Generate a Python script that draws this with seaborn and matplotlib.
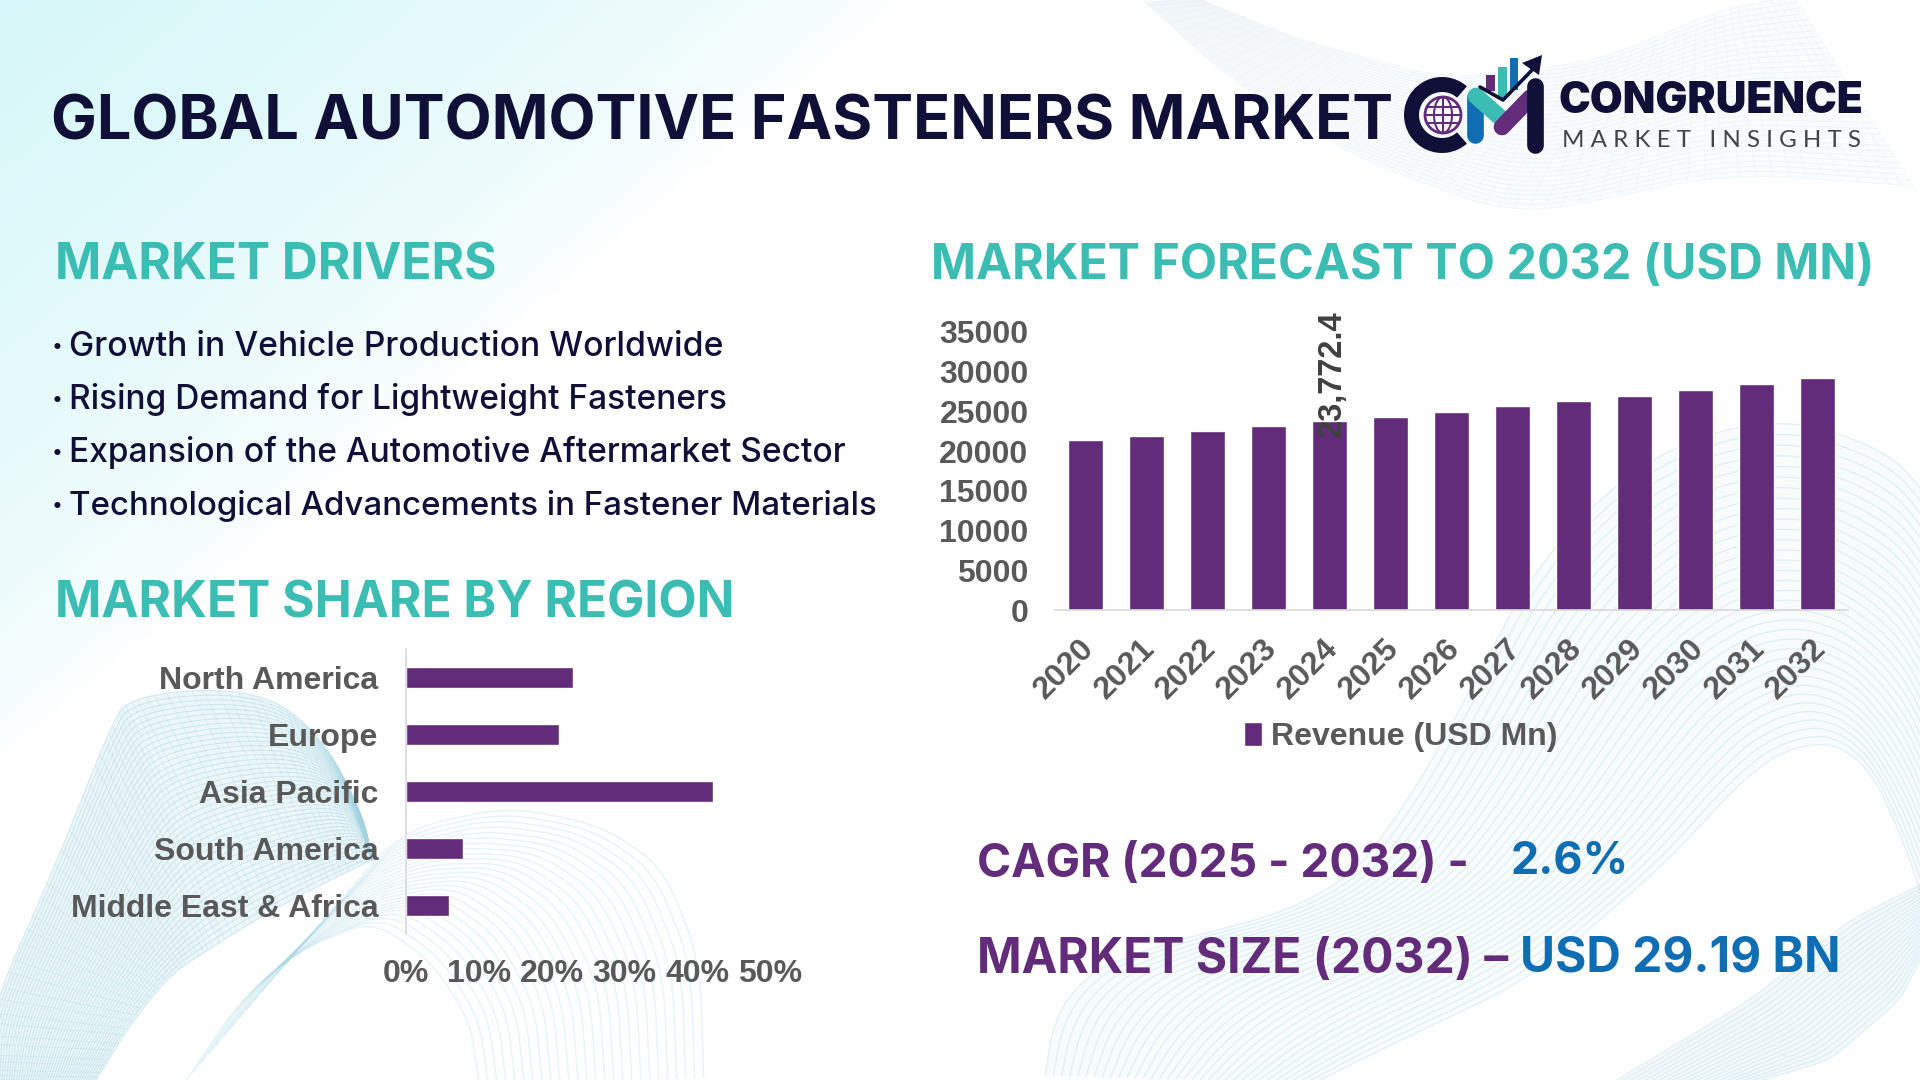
import numpy as np
import pandas as pd
import matplotlib
matplotlib.use("Agg")
import matplotlib.pyplot as plt
from matplotlib.patches import Circle, Ellipse, Polygon, Rectangle, Wedge
from matplotlib.transforms import ScaledTranslation
import seaborn as sns

years = ["2020", "2021", "2022", "2023", "2024", "2025", "2026", "2027", "2028", "2029", "2030", "2031", "2032"]
revenue = [21400, 21900, 22550, 23170, 23772.4, 24300, 24950, 25680, 26300, 26950, 27700, 28450, 29190]
regions = ["North America", "Europe", "Asia Pacific", "South America", "Middle East & Africa"]
region_share = [23, 21, 42.2, 7.8, 5.9]
drivers = [
    "Growth in Vehicle Production Worldwide",
    "Rising Demand for Lightweight Fasteners",
    "Expansion of the Automotive Aftermarket Sector",
    "Technological Advancements in Fastener Materials",
]

PURPLE = "#622c7a"
TEAL = "#3cbdb4"
NAVY = "#0f0f38"
BLUE = "#0f6db3"
GREY = "#595959"
MESH = "#9fd3e2"

sns.set_theme(style="white")
plt.rcParams["font.family"] = ["Inter", "DejaVu Sans"]

fig = plt.figure(figsize=(19.2, 10.8), dpi=100, facecolor="white")
renderer = fig.canvas.get_renderer()

# full page axes in pixel units, used for the background, headings and logo
page = fig.add_axes([0, 0, 1, 1], zorder=0)
page.set_xlim(0, 1920)
page.set_ylim(1080, 0)
page.axis("off")


def smooth(pts, n=240, win=31):
    pts = np.array(pts, dtype=float)
    t = np.linspace(0, 1, len(pts))
    u = np.linspace(0, 1, n)
    out = []
    for k in range(2):
        v = np.interp(u, t, pts[:, k])
        v = np.concatenate([np.full(win, v[0]), v, np.full(win, v[-1])])
        out.append(np.convolve(v, np.ones(win) / win, mode="same")[win:-win])
    return np.column_stack(out)


def ribbon(outer, inner, n=40, alpha=0.35, fill=0.0, cross=0, lw=0.8, color=MESH):
    o, i = smooth(outer), smooth(inner)
    if fill:
        page.add_patch(Polygon(np.vstack([o, i[::-1]]), closed=True, fc=color, ec="none", alpha=fill))
    for f in np.linspace(0, 1, n):
        c = o * (1 - f) + i * f
        page.plot(c[:, 0], c[:, 1], color=color, lw=lw, alpha=alpha)
    for k in np.linspace(0, len(o) - 1, cross).astype(int) if cross else []:
        page.plot([o[k, 0], i[k, 0]], [o[k, 1], i[k, 1]], color=color, lw=lw * 0.7, alpha=alpha * 0.7)


def fit_text(s, x0, x1, base, color, weight="bold", family=None):
    t = page.text(x0, base, s, color=color, weight=weight, fontsize=30, va="baseline", ha="left",
                  family=family or ["Inter", "DejaVu Sans"])
    w = t.get_window_extent(renderer).width
    t.set_fontsize(30 * (x1 - x0) / w)
    return t


# pale cyan wash in the top left corner
yy, xx = np.mgrid[0:1080:270j, 0:1920:480j]
wash = np.clip(1 - (xx / 900 + yy / 760), 0, 1) ** 0.6
rgba = np.ones((270, 480, 4))
rgba[..., 0], rgba[..., 1], rgba[..., 2] = 0.84, 0.97, 0.98
rgba[..., 3] = wash
page.imshow(rgba, extent=[0, 1920, 1080, 0], aspect="auto", zorder=0, interpolation="bilinear")
page.set_xlim(0, 1920)
page.set_ylim(1080, 0)

# wave meshes
ribbon([(-10, 1090), (-10, 1010), (51, 877), (110, 727), (130, 695), (250, 687), (316, 727), (362, 810), (372, 860)],
       [(90, 1090), (133, 1020), (170, 975), (200, 955), (255, 920), (320, 885), (372, 860), (372, 860), (372, 860)],
       n=45, alpha=0.4, fill=0.18, cross=70)
ribbon([(372, 860), (420, 825), (510, 807), (600, 825), (663, 867), (700, 960), (704, 1090)],
       [(180, 1090), (240, 1000), (300, 950), (372, 920), (430, 960), (470, 1020), (480, 1090)],
       n=26, alpha=0.26, lw=1.0)
ribbon([(1043, 1090), (1058, 991), (1144, 946), (1327, 905), (1401, 815), (1468, 695), (1560, 520), (1728, 410),
        (1880, 440), (1930, 500)],
       [(1300, 1090), (1400, 1040), (1530, 980), (1600, 920), (1680, 850), (1740, 780), (1800, 740), (1860, 750),
        (1900, 830), (1930, 920)],
       n=34, alpha=0.28, fill=0.06, lw=1.0)
ribbon([(1600, 1090), (1750, 1000), (1850, 920), (1930, 880)],
       [(1730, 1090), (1830, 1060), (1900, 1000), (1930, 940)],
       n=20, alpha=0.3, fill=0.12)
ribbon([(1137, -5), (1231, 80), (1361, 160), (1518, 217), (1728, 173), (1930, 187)],
       [(1190, -5), (1300, 40), (1450, 80), (1600, 60), (1720, 10), (1800, -5)],
       n=34, alpha=0.14, fill=0.05, cross=60, color="#b5d5e8")

# headings and text blocks
fit_text("GLOBAL AUTOMOTIVE FASTENERS MARKET", 51, 1393, 140, NAVY)
fit_text("MARKET DRIVERS", 55, 497, 279, TEAL)
fit_text("MARKET SHARE BY REGION", 55, 735, 618, TEAL)
fit_text("MARKET FORECAST TO 2032 (USD MN)", 931, 1873, 279, TEAL)
for s, x1, base in zip(drivers, [723, 727, 846, 878], [356, 409, 462, 515]):
    page.text(52, base - 4, "•", color=NAVY, fontsize=14, va="baseline", ha="left")
    fit_text(s, 69, x1, base, NAVY, weight="medium")
fit_text("CAGR (2025 - 2032) -", 977, 1469, 877, PURPLE)
fit_text("2.6%", 1511, 1629, 874, BLUE)
fit_text("MARKET SIZE (2032) –", 977, 1507, 973, PURPLE)
fit_text("USD 29.19 BN", 1520, 1840, 972, BLUE)

# logo
page.add_patch(Wedge((1442, 115), 38, 49, 311, width=15, fc=NAVY, ec="none", zorder=5))
page.add_patch(Circle((1443, 115), 18, fc="white", ec=PURPLE, lw=2, zorder=5))
page.add_patch(Ellipse((1443, 115), 18, 36, fc="none", ec=PURPLE, lw=1.5, zorder=5))
for dy in (-8, 0, 8):
    half = np.sqrt(18 ** 2 - dy ** 2)
    page.plot([1443 - half, 1443 + half], [115 + dy, 115 + dy], color=PURPLE, lw=1.5, zorder=5)
page.plot([1443, 1443], [97, 133], color=PURPLE, lw=1.5, zorder=5)
for x, y, w, h, c in [(1486, 75, 9, 16, PURPLE), (1498, 67, 9, 32, TEAL), (1510, 58, 8, 32, BLUE)]:
    page.add_patch(Rectangle((x, y), w, h, fc=c, ec="none", zorder=5))
page.plot([1475, 1475], [97, 135], color=BLUE, lw=12, solid_capstyle="round", zorder=5)
page.plot([1476, 1503], [96, 120], color=TEAL, lw=12, solid_capstyle="round", zorder=6)
page.plot([1502, 1530], [127, 98], color=PURPLE, lw=12, solid_capstyle="round", zorder=6)
page.plot([1535, 1535], [86, 145], color=NAVY, lw=12, solid_capstyle="round", zorder=6)
page.plot([1480, 1503, 1535], [87, 100, 67], color=NAVY, lw=2.6, zorder=7)
page.add_patch(Polygon([(1542, 55), (1522, 63), (1539, 75)], fc=NAVY, ec="none", zorder=7))
fit_text("CONGRUENCE", 1558, 1863, 113, NAVY, weight="black")
fit_text("M A R K E T   I N S I G H T S", 1562, 1860, 147, "#444444", weight="normal",
         family=["Lato", "DejaVu Sans"])


def pixel_axes(x0, x1, y0, y1):
    ax = fig.add_axes([x0 / 1920, 1 - y1 / 1080, (x1 - x0) / 1920, (y1 - y0) / 1080], zorder=2)
    ax.patch.set_alpha(0)
    for s in ax.spines.values():
        s.set_visible(False)
    return ax


def style_labels(labels):
    for lab in labels:
        lab.set_family(["Liberation Sans", "DejaVu Sans"])
        lab.set_fontweight("bold")
        lab.set_fontsize(23)
        lab.set_color(GREY)


# forecast bars
df_rev = pd.DataFrame({"year": years, "revenue": revenue})
ax1 = pixel_axes(1055, 1848, 332, 610)
sns.barplot(data=df_rev, x="year", y="revenue", color=PURPLE, width=0.58, saturation=1,
            label="Revenue (USD Mn)", ax=ax1)
ax1.set_xlim(-0.5, 12.5)
ax1.set_ylim(0, 35000)
ax1.set_yticks(range(0, 35001, 5000))
ax1.set_xlabel("")
ax1.set_ylabel("")
ax1.spines["bottom"].set_visible(True)
ax1.spines["bottom"].set_color("#d9d9d9")
ax1.spines["bottom"].set_linewidth(1.2)
ax1.tick_params(axis="y", length=0, pad=19)
ax1.tick_params(axis="x", length=0, pad=17)
style_labels(ax1.get_yticklabels())
style_labels(ax1.get_xticklabels())
shift = ScaledTranslation(-7 / 100, 0, fig.dpi_scale_trans)
for lab in ax1.get_xticklabels():
    lab.set_rotation(45)
    lab.set_ha("right")
    lab.set_rotation_mode("anchor")
    lab.set_transform(lab.get_transform() + shift)
ax1.annotate(f"{revenue[4]:,.1f}", xy=(4, revenue[4]), xytext=(3, -16), textcoords="offset pixels",
             rotation=90, ha="center", va="bottom", fontsize=23.5, fontweight="bold", color="#404040",
             family=["Liberation Sans", "DejaVu Sans"], annotation_clip=False)
leg = ax1.legend(loc="center", bbox_to_anchor=(1401 / 1920, 1 - 737 / 1080), bbox_transform=fig.transFigure,
                 frameon=False, handlelength=0.55, handleheight=0.75, handletextpad=0.3, borderpad=0,
                 prop={"family": ["Liberation Sans", "DejaVu Sans"], "weight": "bold", "size": 23},
                 labelcolor=GREY)

# region share bars
df_reg = pd.DataFrame({"region": regions, "share": region_share})
ax2 = pixel_axes(406, 770, 649, 934)
sns.barplot(data=df_reg, x="share", y="region", color=PURPLE, width=0.36, saturation=1, orient="h", ax=ax2)
ax2.set_xlim(0, 50)
ax2.set_ylim(4.5, -0.5)
ax2.set_xticks(range(0, 51, 10))
ax2.set_xticklabels([f"{v}%" for v in range(0, 51, 10)])
ax2.set_xlabel("")
ax2.set_ylabel("")
ax2.spines["left"].set_visible(True)
ax2.spines["left"].set_color("#d9d9d9")
ax2.spines["left"].set_linewidth(1.2)
ax2.tick_params(axis="y", length=0, pad=20)
ax2.tick_params(axis="x", length=0, pad=18)
style_labels(ax2.get_yticklabels())
style_labels(ax2.get_xticklabels())

fig.savefig("out.png", dpi=100)
